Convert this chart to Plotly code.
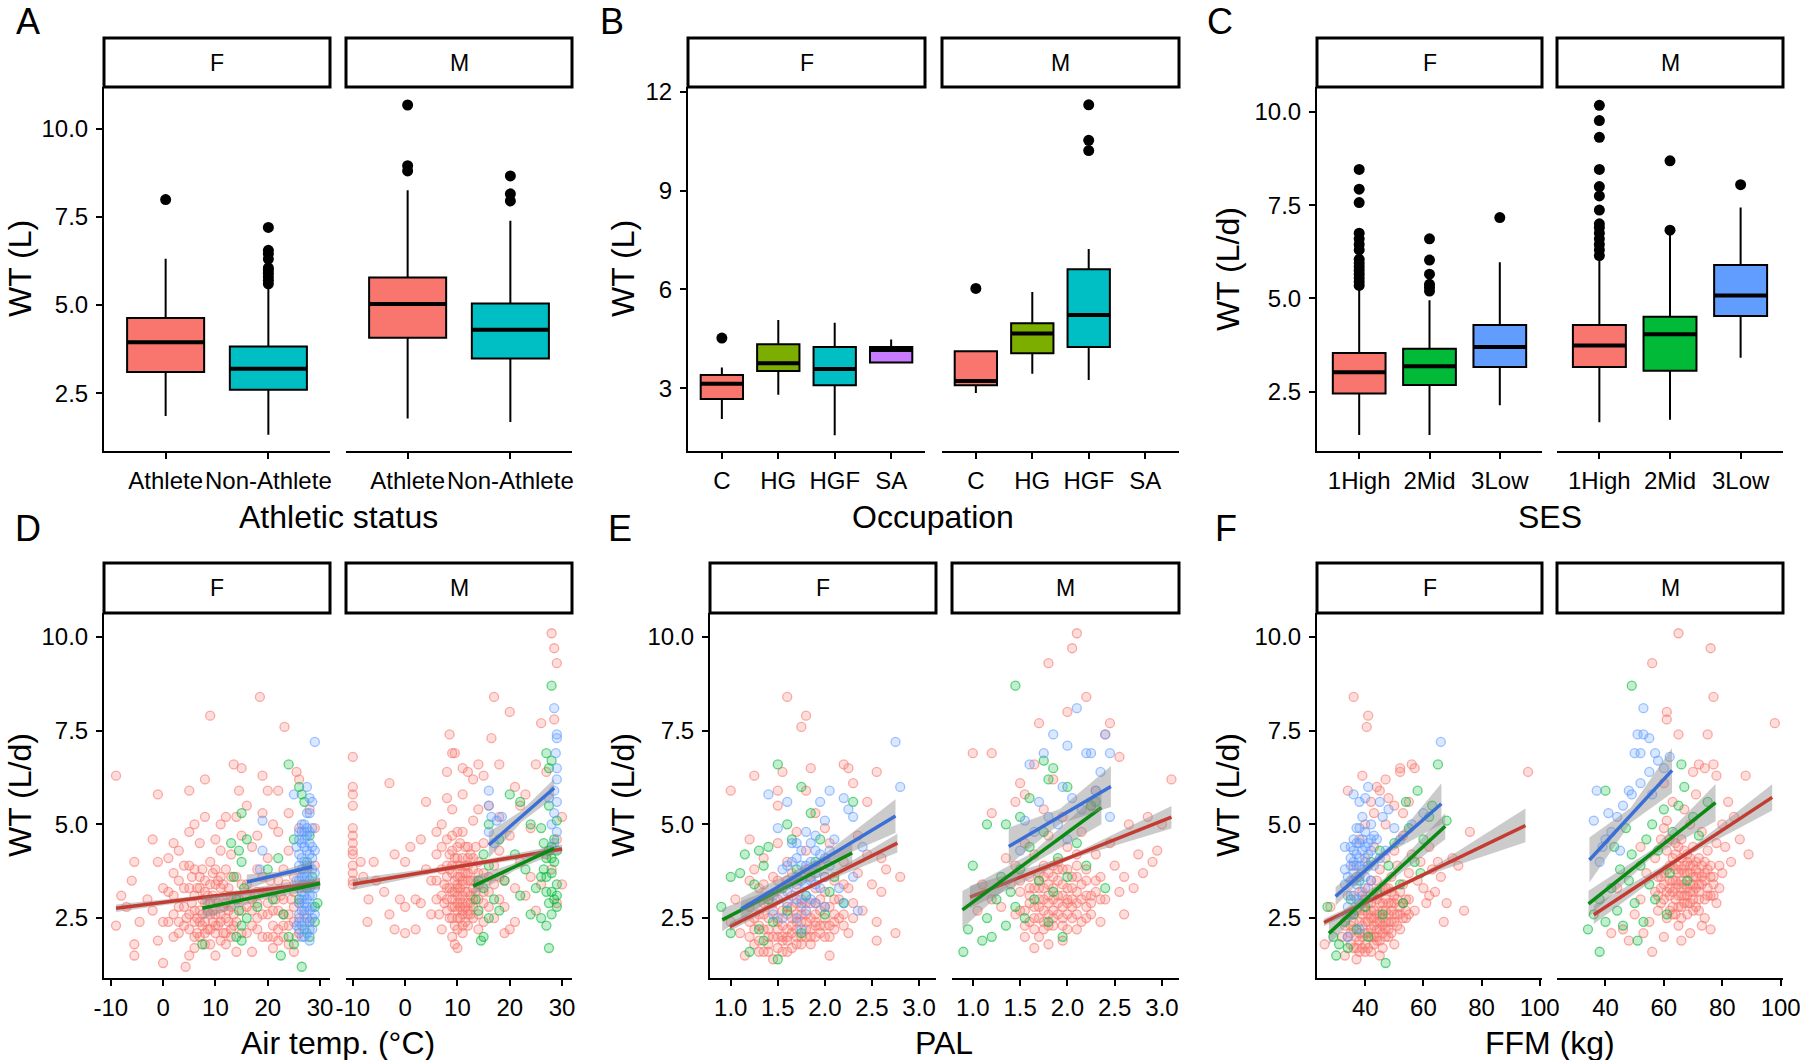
import plotly.graph_objects as go

# ---------------- DATA ----------------
# Panel A: Athletic status (boxes: q1, median, q3, lower whisker, upper whisker)
A_cats = ["Athlete", "Non-Athlete"]
A_F_stats = [[3.10, 3.94, 4.63, 1.85, 6.31], [2.60, 3.19, 3.82, 1.32, 5.50]]
A_M_stats = [[4.07, 5.03, 5.78, 1.78, 8.25], [3.48, 4.30, 5.04, 1.68, 7.39]]
A_F_out = [[7.99], [5.6, 5.7, 5.8, 5.9, 6.0, 6.05, 6.3, 6.45, 6.55, 7.2]]
A_M_out = [[8.8, 8.95, 10.67], [7.95, 8.15, 8.66]]

# Panel B: Occupation
B_cats = ["C", "HG", "HGF", "SA"]
B_F_stats = [[2.67, 3.13, 3.40, 2.06, 3.63], [3.52, 3.76, 4.33, 2.80, 5.07],
             [3.09, 3.58, 4.25, 1.57, 4.99], [3.78, 4.16, 4.25, 3.78, 4.48]]
B_M_stats = [[3.09, 3.22, 4.12, 2.85, 4.12], [4.06, 4.66, 4.97, 3.44, 5.92],
             [4.25, 5.22, 6.61, 3.25, 7.23], None]
B_F_out = [[4.52], [], [], []]
B_M_out = [[6.03], [], [10.22, 10.53, 11.61], []]

# Panel C: SES
C_cats = ["1High", "2Mid", "3Low"]
C_F_stats = [[2.45, 3.02, 3.54, 1.34, 5.29], [2.68, 3.18, 3.65, 1.34, 4.95], [3.16, 3.70, 4.29, 2.14, 5.97]]
C_M_stats = [[3.16, 3.74, 4.29, 1.68, 6.06], [3.06, 4.04, 4.51, 1.75, 6.70], [4.53, 5.08, 5.90, 3.41, 7.44]]
C_F_out = [[5.35, 5.45, 5.55, 5.65, 5.75, 5.85, 5.95, 6.05, 6.3, 6.45, 6.6, 6.75, 7.57, 7.93, 8.46],
           [5.2, 5.3, 5.38, 5.65, 6.03, 6.6], [7.17]]
C_M_out = [[6.15, 6.3, 6.45, 6.6, 6.75, 6.9, 7.0, 7.37, 7.75, 8.0, 8.46, 9.32, 9.77, 10.18],
           [6.83, 8.69], [8.05]]

# Scatter data (x, WT) by SES group: red=1High, green=2Mid, blue=3Low
D_F_red = [(-9,6.3),(-1,5.8),(5,5.9),(8,6.2),(9,7.9),(13.5,6.6),(15,6.5),(18.5,8.4),(23.2,7.6),(25.5,6.4),(22,5.9),(14.5,5.9),(16,5.5),(-2,4.6),(2,4.5),(-5.5,4.0),(-1,4.0),(-6,3.5),(-9,2.3),(-5.5,1.8),(-5.5,1.5),(-4.5,2.4),(-1,1.9),(0,1.3),(4.3,1.2),(5,1.5),(3,2.1),
    (1,3.2),(2,3.7),(3,2.8),(4,3.9),(4,3.3),(5,4.8),(5,2.6),(6,3.1),(6,2.0),(7,3.6),(7,4.5),(7,2.4),(8,5.2),(8,2.9),(8,1.8),(9,3.4),(9,4.0),(9,2.2),(10,3.0),(10,2.6),(10,4.6),(11,3.3),(11,1.9),(11,5.0),(12,2.5),(12,3.8),(12,2.9),(13,4.2),(13,2.2),(13,3.1),(14,1.6),(14,3.6),(15,2.7),(15,4.7),(16,3.4),(16,2.1),(17,3.0),(17,4.4),(18,2.5),(18,3.8),(19,5.3),(19,2.0),(20,3.2),(20,4.1),(21,2.7),(21,1.7),(22,3.5),(22,4.8),(23,2.3),(23,3.0),(24,4.3),(24,2.6),(25,3.6),(25,1.6),(26,2.9),(26,4.9),(27,3.3),(28,2.4),(29,3.9),(29,4.9),(28,5.4),(6,5.0),(3,4.3),(12,5.2),(20,5.9),(10,1.5),(17,1.6),(24,5.3),
    (5.5,2.9),(6.5,2.5),(7.5,3.0),(8.5,2.7),(9.5,3.1),(10.5,2.3),(11.5,2.8),(12.5,3.3),(13.5,2.6),(6,3.8),(8,3.5),(10,3.8),(11,4.3),(4,2.3),(2,2.6),(-3,3.0),(-7,2.8),(-8,3.1),(0,2.4),(1,4.1),(14,5.2),(18,4.7),(21,5.0),(19,6.3),(26,6.2),
    (5,3.3),(6,2.7),(7,2.0),(8,3.2),(9,2.6),(10,3.4),(11,2.6),(12,2.1),(13,2.8),(14,3.1),(15,3.4),(16,2.8),(17,2.3),(18,3.2),(20,2.6),(22,2.2),(23,3.8),(25,2.8),(27,2.6),(19,3.6),
    (5,2.2),(6,2.4),(6.5,3.3),(7,2.7),(7.5,2.3),(8,2.1),(8.5,3.1),(9,2.9),(9.5,2.4),(10,2.1),(10.5,3.5),(11,2.4),(11.5,2.1),(12,3.1),(12.5,2.4),(13,2.0),(21,2.3),(22,2.7),(22.5,3.1),(23,2.0),(24,2.3),(24.5,3.0),(25,2.4),(25.5,2.0),(26,2.5),(26.5,3.4),(20,2.0),(19,2.6),(18,2.2),(5,3.9),(4,2.8),(3,3.5),(2,3.1),(1,2.4),(0,3.3)]
D_F_red_core = [(4.5,2.5),(5.5,3.6),(6,1.7),(6.5,2.1),(7,3.3),(7.5,2.6),(7.5,3.8),(8,2.4),(8.5,2.2),(9,1.8),(9.5,2.7),(9.5,3.7),(10,2.3),(10.5,2.9),(11,3.6),(11.5,3.4),(12,1.8),(12.5,2.7),(13,3.6),(13.5,2.3),(14,2.4),(14.5,3.0),(15,2.1),(16,3.1),(17,2.7),(18,2.9),(19,3.2),(20,2.9),(20.5,3.5),(21,2.0),(21.5,3.0),(22,1.9),(23,2.6),(23.5,3.4),(24,1.8),(25,3.2),(26,2.1),(3,2.4),(2,2.0),(-2,2.7)]
D_F_green = [(15,5.3),(24,6.6),(26.5,5.8),(27,5.6),(26,6.0),(14.5,4.3),(15,4.0),(20,3.8),(22,4.1),(7.5,1.8),(14,2.0),(15,2.3),(22.5,1.5),(26.5,1.2),(28,2.0),(29,2.8),(27.5,3.3),(14,3.0),(16,2.5),(18,2.8),(24,2.0),(27,2.2),(13.5,3.6),(15.5,3.3),(14.5,2.7),(16,4.6),(13,4.5),(21,3.0),(23,2.6),(25,4.6),(27.5,4.0),(28.5,3.6),(29,2.4),(26,3.0),(28,4.7),(15,1.9),(25,1.8),(29.5,2.9)]
D_F_blue = [(29,7.2),(25,5.8),(19,5.1),(19,4.3),(18.5,3.8),(27.5,6.0),(28,5.7),(28,5.3),(27,5.0),(26,4.8),(26.5,4.5),(27.5,4.3),(28.5,4.1),(26,3.9),(27,3.7),(28,3.5),(26.5,3.2),(27.5,3.0),(28.5,2.8),(26,2.6),(27,2.4),(28,2.2),(26.5,2.0),(27.5,4.7),(28.5,4.9),(25.5,4.4),(25.5,3.5),(29,3.3),(26,2.9),(27,2.7),(28,3.9),(27,4.0),(26.5,3.6),(28.5,2.5),(27.5,2.1),(25.5,2.3),(26,3.3),(27,3.1),(28,2.7),(26.5,4.1),
    (26,4.2),(26.5,3.8),(27,4.4),(27.5,3.6),(28,4.2),(28.5,3.8),(26,3.5),(27,3.4),(28,3.1),(26.5,2.7),(27.5,2.5),(28.5,2.2),(26,2.2),(27,2.0),(28,1.9),(27,4.6),(28,4.5),(26.5,5.0),(27.5,5.3),(28.5,5.6)]
D_F_blue_core = [(26,4.6),(26.5,4.8),(27,4.8),(27.5,4.9),(28,4.8),(28.5,4.4),(29,4.3),(29,3.7),(28.5,3.4),(27.5,3.9),(27,3.6),(26.5,3.0),(27,2.9),(28,2.4),(28.5,3.1),(26,2.4),(27.5,2.8),(29,2.6),(28,3.3),(26.5,2.3)]

D_M_red = [(-10,6.8),(-10,6.0),(-10,5.8),(-10,5.5),(-10,4.9),(-10,4.7),(-10,4.5),(-10,4.3),(-10,4.2),(-10,3.9),(-10,3.7),(-10,3.5),(-10,3.4),(-7.2,2.4),(-8.5,4.0),(-3,6.1),(-1,3.0),(-2,2.2),(0,2.1),(-3,2.6),(1,4.4),(0,4.0),(2,3.0),(3,4.6),(-5.5,3.5),(-7,3.0),
    (28,10.1),(28.5,9.7),(29,9.3),(17,8.4),(20,8.0),(26,7.7),(8.5,7.4),(16.5,7.3),(9,6.9),(9.5,6.9),(8,6.4),(14,6.6),(18,6.6),(25,6.6),(11,6.5),(12,6.4),(4,5.6),(13,6.2),(15,6.3),(21,6.0),(23,5.8),(27,6.4),(28.5,7.8),
    (5,3.5),(5,2.6),(6,4.2),(6,3.0),(7,3.8),(7,2.2),(7,5.0),(8,3.3),(8,4.6),(8,2.7),(9,3.7),(9,2.0),(9,5.4),(10,3.1),(10,4.1),(10,2.5),(10,3.6),(10,1.7),(11,3.4),(11,4.8),(11,2.9),(11,2.3),(12,3.9),(12,3.2),(12,4.4),(12,2.6),(13,3.5),(13,5.1),(13,2.8),(14,4.0),(14,3.0),(14,2.2),(15,3.7),(15,4.5),(16,3.2),(16,5.5),(17,3.9),(17,2.5),(18,4.3),(18,3.0),(19,3.5),(19,2.1),(20,4.7),(21,3.3),(21,2.4),(22,4.0),(23,3.1),(24,3.6),(24,4.9),(25,2.7),(26,3.4),(27,4.2),(28,3.8),(29,2.9),(30,3.4),(30,5.2),(29,4.6),(9.5,1.8),(10.5,2.8),(11.5,3.9),(9,4.3),(13,4.1),(7.5,3.4),(20,2.2),(3,2.9),(4,3.8),(6,4.8),(8,5.7),(11,5.8),(14,5.4),(18,5.2),(22,5.5),(2,2.2),(0,2.8),(-8,3.6),(-6,4.0),(-4,3.2),(-2,4.2),
    (9,3.0),(10,3.3),(11,3.7),(10,2.9),(9.5,3.5),(10.5,3.9),(11,3.1),(12,3.5),(8.5,3.8),(13,3.3),(12.5,2.9),(9,2.5),
    (8,3.0),(8.5,3.3),(9,3.9),(9.5,2.8),(9.5,4.1),(10,2.7),(10,3.9),(10,4.4),(10.5,3.3),(10.5,2.5),(11,4.1),(11,2.6),(11.5,3.2),(11.5,2.4),(12,2.9),(12,3.7),(12.5,3.5),(12.5,4.2),(13,3.0),(13,2.5),(9,3.2),(10,2.2),(11,2.1),(12,2.3),(8,3.9),(7,3.1),(14,3.4),(14,2.6),(15,2.9),(16,3.6)]
D_M_red_core = [(6,3.5),(6.5,2.6),(7,4.4),(7.5,2.9),(8,3.6),(8.5,2.5),(8.5,4.2),(9,2.8),(9,4.7),(9.5,3.2),(9.5,2.3),(10,3.4),(10,4.8),(10.5,3.0),(10.5,3.6),(10.5,4.5),(11,3.5),(11,2.7),(11.5,3.7),(11.5,2.8),(11.5,4.4),(12,2.7),(12,4.1),(12.5,3.1),(12.5,2.6),(13,3.8),(13.5,3.2),(13.5,4.4),(14,3.7),(15,3.2),(15,2.4),(16,2.8),(17,3.4),(18,3.6),(19,2.8)]
D_M_green = [(28,8.7),(28,6.7),(27.5,6.5),(27,6.9),(15,2.0),(14,2.7),(15,3.3),(16,3.9),(14,3.5),(16,2.5),(17,3.0),(15,4.2),(13.5,3.0),(14.5,1.9),(18,2.7),(19,3.5),(20,5.8),(22,5.6),(21,4.2),(22,3.1),(23,3.8),(24,2.6),(25,3.3),(26,2.5),(26,4.9),(27,2.3),(27.5,1.7),(28,2.6),(28.5,3.0),(29,2.8),(27,4.1),(28,3.7),(28.5,4.6),(29,5.1),(27.5,5.5),(26.5,3.8),(28,4.4),(29,3.4),(27,3.2),(24,5.0),(18,4.6),(16,5.0),
    (26,3.6),(27,3.6),(27.5,4.3),(28,4.1),(28.5,4.0),(29,4.3),(27.5,2.9),(28,3.2),(29,3.1),(26.5,4.5)]
D_M_blue = [(28.5,8.1),(29,7.4),(29,7.3),(28.8,6.9),(29,6.5),(29,6.2),(28.5,5.9),(16,5.5),(16,5.9),(16,4.8),(17,4.5),(17.5,5.1),(18.5,5.2),(28,5.0),(28.5,5.3),(29,4.8),(28.5,4.5),(29,5.6),(27.5,5.7),(16.5,5.2)]

E_F_red = [(1.6,8.4),(1.8,7.9),(1.75,7.6),(1.0,5.9),(1.25,6.3),(1.55,6.4),(1.85,6.5),(2.2,6.6),(2.25,6.5),(2.55,6.4),(2.3,6.1),(2.45,5.6),(2.65,3.8),(2.8,3.6),(2.6,3.2),(2.55,2.4),(2.55,1.9),(2.75,2.1),(2.05,1.5),(1.5,5.9),(1.5,5.5),(1.8,5.9),(1.9,5.3),(1.2,4.6),
    (1.1,2.1),(1.15,1.5),(1.2,2.8),(1.25,1.8),(1.3,3.3),(1.3,2.3),(1.35,1.6),(1.35,4.1),(1.4,2.0),(1.4,2.9),(1.45,3.6),(1.45,1.4),(1.5,2.5),(1.5,4.5),(1.55,1.9),(1.55,3.1),(1.6,2.2),(1.6,4.0),(1.65,2.8),(1.65,1.7),(1.7,3.4),(1.7,2.4),(1.7,4.8),(1.75,2.0),(1.75,3.0),(1.8,2.6),(1.8,4.3),(1.85,1.8),(1.85,3.6),(1.9,2.3),(1.9,2.9),(1.95,3.9),(1.95,2.1),(2.0,3.2),(2.0,2.5),(2.05,4.5),(2.05,2.8),(2.1,3.5),(2.1,2.2),(2.15,3.0),(2.2,4.0),(2.2,2.6),(2.25,3.3),(2.3,2.9),(2.35,3.7),(2.4,2.7),(2.45,4.2),(2.5,3.4),(1.0,2.4),(1.05,3.0),(1.6,3.5),(1.5,2.0),(1.4,2.5),(1.7,2.0),(1.9,3.3),(2.0,4.9),(2.35,4.7),(2.6,4.1),(1.25,3.8),(1.2,3.5),
    (1.35,2.2),(1.45,2.7),(1.55,2.3),(1.65,2.5),(1.75,2.6),(1.85,2.2),(1.95,2.7),(2.05,2.3),(1.5,1.7),(1.6,1.9),(1.8,2.0),(2.15,2.5),(2.25,2.1),(1.3,1.9),(1.4,1.6),
    (1.35,2.6),(1.4,1.8),(1.45,3.1),(1.5,2.2),(1.55,2.7),(1.6,1.6),(1.6,2.6),(1.65,3.1),(1.65,2.1),(1.7,2.2),(1.7,2.9),(1.75,2.4),(1.8,2.2),(1.8,2.9),(1.85,2.5),(1.9,2.0),(1.9,2.6),(1.95,2.3),(2.0,2.0),(2.0,2.8),(1.45,2.0),(1.35,2.9),(1.25,2.2),(1.55,1.6),(2.1,2.6),(2.2,2.3),(1.3,1.6),(1.2,2.0)]
E_F_red_core = [(1.3,2.6),(1.35,3.4),(1.4,2.2),(1.45,2.9),(1.5,2.4),(1.5,3.5),(1.55,2.0),(1.6,2.8),(1.6,2.0),(1.65,2.3),(1.65,3.7),(1.7,2.6),(1.7,1.8),(1.75,2.8),(1.75,1.8),(1.8,2.4),(1.8,3.8),(1.85,2.9),(1.85,2.0),(1.9,2.4),(1.95,3.0),(2.0,2.3),(2.0,3.6),(2.05,2.0),(2.1,2.4),(2.1,3.0),(2.2,3.4),(2.3,2.5),(1.25,2.5),(1.2,2.4)]
E_F_green = [(1.5,6.6),(1.75,6.0),(2.3,5.6),(0.9,2.8),(1.0,3.6),(1.1,3.7),(1.15,4.2),(1.3,4.3),(1.85,5.3),(1.25,3.4),(1.35,3.9),(1.4,3.0),(1.45,2.4),(1.5,1.4),(1.55,3.3),(1.6,2.7),(1.65,4.6),(1.7,3.8),(1.75,2.1),(1.8,3.1),(1.9,4.0),(2.0,2.6),(2.1,3.6),(2.2,2.9),(1.0,2.1),(1.2,1.6),(1.35,1.9),(1.4,4.4),(1.6,5.0),(1.95,4.6),(2.05,3.2),(1.3,2.2)]
E_F_blue = [(2.75,7.2),(2.8,6.0),(1.4,5.8),(1.6,5.6),(2.05,5.9),(2.25,5.4),(2.3,5.2),(1.95,5.6),(2.2,5.7),(1.5,4.9),(1.65,4.5),(1.7,4.1),(1.75,3.5),(1.8,4.8),(1.85,3.0),(1.9,4.3),(2.0,2.8),(2.05,3.9),(2.1,4.6),(2.15,3.3),(2.2,2.9),(2.3,3.6),(2.35,2.7),(1.55,3.8),(1.6,3.2),(1.45,2.6),(1.7,2.5),(2.0,5.1),(2.4,4.4),(1.9,3.7),(1.5,3.0),(1.75,2.2),
    (1.6,3.9),(1.65,3.5),(1.7,4.5),(1.75,3.9),(1.8,3.4),(1.85,4.0),(1.9,4.7),(1.95,3.3),(2.0,4.1),(1.7,3.0),(1.8,2.7),(1.9,2.9),(1.6,2.9),(1.55,2.5)]
E_F_blue_core = [(1.65,4.0),(1.7,3.6),(1.75,4.3),(1.8,3.9),(1.85,3.5),(1.85,4.5),(1.9,3.9),(1.95,4.2),(2.0,3.6),(2.05,4.3),(1.7,3.3),(1.8,3.1),(1.6,3.4),(1.75,2.9),(1.9,3.4)]

E_M_red = [(2.1,10.1),(2.05,9.7),(1.8,9.3),(2.2,8.4),(2.0,8.0),(2.45,7.7),(1.7,7.7),(2.4,7.4),(1.0,6.9),(1.2,6.9),(2.55,6.8),(3.1,6.2),(1.65,6.6),(1.5,6.1),(1.55,5.8),(1.45,5.6),(1.2,5.3),(1.85,6.2),(2.3,5.9),(2.65,5.0),(2.75,4.2),(2.8,3.7),(2.9,4.0),(2.95,4.3),(2.7,3.3),(2.6,3.6),(2.5,3.9),(2.55,3.2),(2.45,4.5),(2.35,3.0),(2.3,4.2),(2.25,2.6),(2.2,3.5),(2.15,4.8),(2.1,2.2),(2.1,3.9),(2.05,3.0),(2.0,4.4),(2.0,2.6),(1.95,3.4),(1.95,1.9),(1.9,4.0),(1.9,2.9),(1.85,3.6),(1.85,2.3),(1.8,4.7),(1.8,3.1),(1.75,2.7),(1.75,3.9),(1.7,3.3),(1.7,2.0),(1.65,4.2),(1.65,2.5),(1.6,3.6),(1.6,2.9),(1.55,4.5),(1.55,2.3),(1.5,3.2),(1.45,3.9),(1.45,2.6),(1.4,3.4),(1.35,4.1),(1.3,2.8),(1.2,3.0),(1.1,3.4),(1.05,2.7),(1.65,1.7),(1.8,1.8),(2.35,2.4),(2.6,2.6),(3.0,5.0),(2.85,5.2),(1.95,5.2),(2.25,5.5),(1.75,5.4),
    (1.6,3.1),(1.7,2.8),(1.8,3.4),(1.9,3.1),(2.0,2.9),(1.65,3.3),(1.75,3.0),(1.85,2.7),(2.1,3.2),(1.95,2.5),(1.5,2.7),(2.2,3.1),
    (1.7,3.0),(1.75,3.3),(1.8,2.6),(1.85,3.0),(1.9,3.5),(1.95,2.8),(2.0,3.3),(2.05,2.5),(2.1,2.9),(2.15,3.4),(2.2,2.8),(1.65,2.8),(1.6,2.4),(1.75,2.4),(1.85,3.9),(1.95,3.8),(2.05,3.6),(2.15,2.4),(2.25,3.1),(1.8,3.7),(2.0,2.2),(2.1,4.2),(1.7,3.7),(2.3,3.5)]
E_M_red_core = [(1.55,2.7),(1.6,3.3),(1.65,2.2),(1.7,2.5),(1.7,3.5),(1.75,2.2),(1.75,3.6),(1.8,2.9),(1.8,2.3),(1.85,3.3),(1.85,2.5),(1.9,2.6),(1.9,3.8),(1.95,3.1),(1.95,2.3),(2.0,3.0),(2.0,3.8),(2.05,2.8),(2.05,3.3),(2.1,2.6),(2.1,3.6),(2.15,3.0),(2.2,2.5),(2.2,3.8),(2.25,2.9),(2.3,3.2),(2.35,3.6),(2.4,3.0),(1.5,3.5),(1.55,2.0)]
E_M_green = [(1.45,8.7),(0.9,1.6),(0.95,2.2),(1.0,3.9),(1.15,5.0),(1.35,5.0),(1.75,6.7),(1.85,6.5),(1.8,6.2),(2.0,6.0),(1.15,2.5),(1.2,2.0),(1.25,3.0),(1.3,3.6),(1.35,2.3),(1.4,3.2),(1.45,2.8),(1.5,3.8),(1.55,2.5),(1.6,4.4),(1.65,3.0),(1.7,3.5),(1.75,4.8),(1.8,2.4),(1.85,3.2),(1.9,4.1),(1.95,2.0),(2.0,3.6),(2.1,4.5),(2.2,3.9),(2.25,5.5),(2.3,5.6),(1.5,5.2),(1.6,5.7),(2.4,3.3),(1.1,1.9)]
E_M_blue = [(2.1,8.1),(1.85,7.4),(2.4,7.4),(1.75,6.9),(2.0,7.1),(2.2,6.9),(2.25,6.9),(2.45,6.9),(2.35,6.4),(2.45,5.2),(1.6,6.6),(1.95,6.0),(1.7,5.6),(1.8,5.2),(1.65,4.8),(1.9,5.0),(2.0,4.6),(1.5,4.3),(2.3,5.9),(2.15,5.4),(1.55,5.1),(2.05,5.7)]

F_F_red = [(36,8.4),(41,7.9),(40.5,7.6),(96,6.4),(52,6.4),(52,6.5),(56,6.6),(57,6.5),(39,6.3),(34,5.9),(76,4.8),(72,3.9),(74,2.7),(67,2.4),(62,3.1),(26,1.8),(28,2.8),(44,6.0),(45,5.9),(48,5.7),(50,5.5),(53,5.3),(42,5.6),(47,5.0),
    (32,2.0),(33,1.5),(34,2.6),(35,1.8),(35,3.1),(36,2.2),(37,1.4),(37,3.6),(38,2.7),(38,1.9),(39,3.2),(39,2.3),(40,4.1),(40,1.6),(41,2.9),(41,2.1),(42,3.5),(42,2.5),(43,1.8),(43,4.4),(44,3.0),(44,2.2),(45,3.8),(45,2.6),(46,1.7),(46,3.3),(47,2.4),(47,4.1),(48,2.9),(48,2.0),(49,3.6),(49,2.7),(50,4.3),(50,3.1),(51,2.3),(51,3.9),(52,2.8),(53,3.4),(53,4.7),(54,2.5),(55,3.7),(55,3.0),(56,4.2),(57,2.7),(58,3.5),(59,4.0),(60,3.3),(61,2.9),(62,4.4),(63,3.8),(64,3.2),(65,4.0),(66,3.6),(68,2.9),(70,4.1),(45,1.5),(50,1.8),(36,3.9),(38,4.6),(40,5.0),(43,5.3),(47,6.2),(55,5.6),
    (39,2.0),(40,2.4),(42,2.0),(43,2.7),(44,1.9),(45,2.2),(46,2.5),(47,2.0),(48,2.4),(49,2.1),(50,2.6),(52,2.2),(36,1.7),(38,1.6),(41,1.7),
    (36,2.6),(37,2.0),(38,2.4),(38,3.2),(39,1.7),(40,2.7),(40,3.0),(41,2.4),(41,3.3),(42,1.6),(42,2.9),(43,2.3),(43,3.1),(44,2.6),(44,3.5),(45,1.9),(45,2.9),(46,2.1),(46,2.9),(47,2.7),(47,3.3),(48,2.2),(48,3.3),(49,2.4),(50,2.9),(51,2.6),(52,3.2),(53,2.5),(54,3.0),(55,2.6),(35,2.3),(34,2.0),(33,2.3)]
F_F_red_core = [(35,2.1),(36,2.4),(37,2.7),(37,1.7),(38,2.1),(39,2.6),(39,2.9),(40,2.1),(40,1.8),(41,2.6),(42,2.2),(42,2.7),(43,2.0),(43,2.5),(44,2.4),(44,2.0),(45,2.4),(45,3.2),(46,2.3),(46,2.7),(47,2.2),(47,3.0),(48,2.6),(49,2.9),(49,3.2),(50,2.4),(51,3.0),(52,2.6),(53,2.9),(54,2.7)]
F_F_green = [(65,6.6),(58,5.9),(54,5.6),(68,5.1),(27,2.8),(30,1.5),(47,1.3),(29,2.0),(31,1.8),(33,2.4),(35,3.0),(37,2.2),(38,3.5),(40,2.8),(42,4.0),(44,3.2),(46,2.6),(48,3.9),(50,4.5),(52,3.4),(55,4.9),(57,4.0),(60,4.6),(62,5.2),(45,4.3),(34,1.7),(41,2.0),(36,2.6),(53,2.9),(59,3.7),(63,5.5)]
F_F_blue = [(66,7.2),(41,6.0),(38,5.6),(45,5.6),(33,4.4),(33,3.8),(33,3.4),(36,5.8),(40,5.7),(39,5.2),(37,4.9),(35,4.4),(36,4.0),(38,4.5),(40,4.8),(42,5.0),(44,4.6),(46,5.2),(48,5.4),(50,4.9),(34,3.1),(36,3.5),(39,3.8),(41,4.2),(43,3.9),(45,4.1),(37,3.0),(40,3.3),(35,2.6),(38,2.9),(42,3.5),(47,4.3),(52,4.6),(56,5.0),(60,5.3),(38,2.2),(34,2.0),
    (34,3.6),(35,3.9),(36,4.3),(37,3.9),(37,4.5),(38,3.6),(38,4.1),(39,4.6),(40,4.0),(40,3.6),(41,4.5),(42,4.3),(43,4.7),(34,2.8),(36,3.1),(39,3.1)]
F_F_blue_core = [(35,3.5),(36,3.7),(37,4.2),(38,3.9),(39,4.3),(40,4.4),(41,3.9),(42,4.6),(36,4.6),(38,4.9),(35,4.1),(37,3.4)]

F_M_red = [(65,10.1),(76,9.7),(56,9.3),(77,8.4),(61,8.0),(61,7.8),(65,7.4),(75,7.4),(98,7.7),(88,6.3),(89,4.2),(72,6.6),(74,6.5),(77,6.6),(78,6.3),(70,6.4),(60,6.1),(82,5.6),(84,5.2),(80,5.0),(86,4.6),(83,4.0),(79,3.9),(44,3.3),(42,2.1),(46,2.2),(48,1.9),(53,2.1),(56,1.6),(60,2.0),(69,2.1),(50,2.6),(52,3.0),(55,2.4),(57,3.2),(58,2.7),(59,3.6),(60,3.0),(61,2.5),(62,3.9),(62,3.3),(63,2.8),(64,4.2),(64,3.5),(65,2.3),(65,3.1),(66,3.8),(66,4.6),(67,2.9),(67,3.4),(68,4.0),(68,2.6),(69,3.7),(69,5.0),(70,3.2),(70,4.4),(71,2.8),(71,3.6),(72,4.1),(72,3.0),(73,3.4),(73,4.8),(74,2.5),(75,3.8),(75,4.3),(76,3.1),(77,3.6),(78,2.9),(78,4.5),(79,3.3),(80,3.7),(81,4.4),(57,4.1),(59,4.6),(61,5.1),(63,5.6),(67,5.4),(71,5.8),(54,3.7),(52,4.4),(60,4.9),(73,2.3),(76,2.2),(66,1.9),
    (62,2.7),(64,3.0),(66,3.3),(68,3.1),(70,3.6),(63,3.5),(65,3.7),(67,3.9),(69,2.9),(71,3.3),(58,3.1),(74,3.5),
    (60,3.4),(61,3.8),(62,3.1),(63,3.2),(63,4.1),(64,2.6),(64,3.8),(65,3.4),(65,4.4),(66,2.8),(66,3.1),(67,4.3),(68,3.3),(68,3.7),(69,3.4),(69,4.1),(70,2.7),(70,3.9),(71,4.0),(72,3.4),(72,3.7),(73,3.9),(74,3.0),(74,4.0),(75,3.3),(76,3.6),(77,3.1),(62,4.6),(66,4.1),(59,3.3)]
F_M_red_core = [(58,3.6),(59,2.9),(60,3.7),(61,3.2),(61,4.3),(62,3.5),(63,2.6),(63,3.9),(64,3.3),(64,4.5),(65,2.8),(65,3.9),(66,3.5),(66,2.5),(67,3.1),(67,3.7),(68,2.9),(68,4.2),(69,3.2),(69,3.9),(70,3.4),(70,3.0),(71,3.8),(72,3.2),(72,2.7),(73,3.6),(74,3.7),(75,3.1),(76,3.9),(77,3.4)]
F_M_green = [(49,8.7),(38,1.6),(34,2.2),(40,5.9),(36,2.6),(38,3.0),(40,2.4),(42,3.3),(44,2.7),(45,3.8),(46,2.3),(48,3.5),(49,4.2),(50,2.9),(51,1.9),(52,3.9),(54,4.6),(55,3.4),(56,5.0),(58,4.3),(60,5.4),(62,3.7),(63,4.8),(65,5.5),(66,6.6),(67,6.0),(70,5.2),(72,4.7),(75,5.6),(53,2.4),(47,4.9),(43,4.4),(57,3.0),(61,2.6),(68,3.5)]
F_M_blue = [(53,8.1),(51,7.4),(53,7.4),(55,7.3),(50,6.9),(52,6.9),(57,6.9),(37,5.9),(48,5.9),(36,5.1),(38,4.0),(40,4.6),(42,4.8),(44,5.2),(46,5.5),(49,5.8),(52,6.1),(55,6.4),(58,6.7),(60,6.5),(45,4.3),(41,5.3),(56,5.8),(62,6.8),(39,4.4)]

# Fitted lines: (x0, x1, y0, y1) and band half-widths (start, mid, end)
D_F_fit = {"red": (-9, 30, 2.76, 3.44, 0.10, 0.05, 0.15), "green": (7.5, 30, 2.76, 3.42, 0.30, 0.10, 0.15), "blue": (16, 28.5, 3.46, 3.87, 0.20, 0.08, 0.15)}
D_M_fit = {"red": (-10, 30, 3.40, 4.34, 0.15, 0.05, 0.12), "green": (13, 28.5, 3.35, 4.36, 0.25, 0.10, 0.15), "blue": (16, 28.5, 4.45, 5.97, 0.35, 0.15, 0.25)}
E_F_fit = {"red": (0.99, 2.77, 2.27, 4.50, 0.12, 0.04, 0.25), "green": (0.91, 2.29, 2.45, 4.24, 0.30, 0.10, 0.30), "blue": (1.11, 2.75, 2.74, 5.22, 0.30, 0.10, 0.45)}
E_M_fit = {"red": (0.97, 3.10, 3.06, 5.19, 0.30, 0.05, 0.30), "green": (0.89, 2.36, 2.72, 5.45, 0.50, 0.15, 0.45), "blue": (1.38, 2.46, 4.41, 6.01, 0.50, 0.20, 0.55)}
F_F_fit = {"red": (25.8, 95.1, 2.38, 4.97, 0.10, 0.05, 0.45), "green": (27.5, 67.5, 2.09, 4.95, 0.30, 0.10, 0.35), "blue": (29.8, 66.2, 3.08, 5.55, 0.25, 0.08, 0.55)}
F_M_fit = {"red": (36.0, 97.1, 2.59, 5.72, 0.25, 0.05, 0.35), "green": (34.2, 77.7, 2.88, 5.58, 0.35, 0.10, 0.50), "blue": (34.5, 62.8, 4.05, 6.44, 0.60, 0.20, 0.60)}

# ---------------- STYLE ----------------
W, H = 1800, 1060
FONT = "Liberation Sans, Arial, sans-serif"
C_RED, C_GREEN, C_BLUE = "#F8766D", "#00BA38", "#619CFF"
RGB = {"red": (248, 118, 109), "green": (0, 186, 56), "blue": (97, 156, 255)}
LINE_COL = {"red": "#C43C31", "green": "#0A8A12", "blue": "#3B6FD6"}
TICK_SIZE = 24
TITLE_SIZE = 32

def px(x):
    return x / W

def py(y):
    return 1 - y / H

ROW1 = (87, 451)
ROW2 = (613, 978)
STRIP1 = (38, 87)
STRIP2 = (563, 613)

fig = go.Figure()
layout = {}
shapes = []
annotations = []
ax_counter = [0]

def new_axes(xpx, ypx, xrange, yrange, xticks, xtext, yticks, ytext, show_y):
    ax_counter[0] += 1
    i = ax_counter[0]
    sfx = "" if i == 1 else str(i)
    axis_common = dict(showgrid=False, zeroline=False, showline=True, linecolor="black", linewidth=2,
                       ticks="outside", ticklen=6, tickwidth=2, tickcolor="black",
                       tickfont=dict(family=FONT, size=TICK_SIZE, color="black"), fixedrange=True,
                       ticklabeloverflow="allow")
    layout["xaxis" + sfx] = dict(axis_common, domain=[px(xpx[0]), px(xpx[1])], range=xrange,
                                 anchor="y" + sfx, tickvals=xticks, ticktext=xtext, tickangle=0,
                                 ticklabelstandoff=1)
    if show_y:
        layout["yaxis" + sfx] = dict(axis_common, domain=[py(ypx[1]), py(ypx[0])], range=yrange,
                                     anchor="x" + sfx, tickvals=yticks, ticktext=ytext, ticklabelstandoff=3)
    else:
        layout["yaxis" + sfx] = dict(domain=[py(ypx[1]), py(ypx[0])], range=yrange, anchor="x" + sfx,
                                     visible=False, showgrid=False, zeroline=False, fixedrange=True)
    return "x" + sfx, "y" + sfx

def text(xp, yp, s, size, angle=0):
    annotations.append(dict(x=px(xp), y=py(yp), xref="paper", yref="paper", text=s, showarrow=False,
                            xanchor="center", yanchor="middle", textangle=angle,
                            font=dict(family=FONT, size=size, color="black")))

def strip(xpx, spx, label):
    shapes.append(dict(type="rect", xref="paper", yref="paper", x0=px(xpx[0]), x1=px(xpx[1]),
                       y0=py(spx[1]), y1=py(spx[0]), line=dict(color="black", width=3), fillcolor="white"))
    text((xpx[0] + xpx[1]) / 2, (spx[0] + spx[1]) / 2, label, 23)

def add_boxes(xa, ya, stats_list, out_list, fills):
    for i, st in enumerate(stats_list):
        if st is None:
            continue
        q1, med, q3, lo, hi = st
        fig.add_trace(go.Box(x=[i], q1=[q1], median=[med], q3=[q3], lowerfence=[lo], upperfence=[hi],
                             fillcolor=fills[i], line=dict(color="black", width=2), width=0.75,
                             whiskerwidth=0, boxpoints=False, xaxis=xa, yaxis=ya, showlegend=False,
                             hoverinfo="skip"))
        fig.add_trace(go.Scatter(x=[i - 0.375, i + 0.375], y=[med, med], mode="lines",
                                 line=dict(color="black", width=4), xaxis=xa, yaxis=ya,
                                 showlegend=False, hoverinfo="skip"))
        if out_list[i]:
            fig.add_trace(go.Scatter(x=[i] * len(out_list[i]), y=out_list[i], mode="markers",
                                     marker=dict(color="black", size=11), xaxis=xa, yaxis=ya,
                                     showlegend=False, hoverinfo="skip"))

def add_scatter(xa, ya, groups, fits):
    for name, pts in groups:
        r, g, b = RGB[name]
        fig.add_trace(go.Scatter(x=[p[0] for p in pts], y=[p[1] for p in pts], mode="markers",
                                 marker=dict(size=9, color=f"rgba({r},{g},{b},0.24)",
                                             line=dict(color=f"rgba({r},{g},{b},0.6)", width=1.3)),
                                 xaxis=xa, yaxis=ya, showlegend=False, hoverinfo="skip"))
    for name in ["red", "green", "blue"]:
        x0, x1, y0, y1, w0, wm, w1 = fits[name]
        xm, ym = (x0 + x1) / 2, (y0 + y1) / 2
        fig.add_trace(go.Scatter(x=[x0, xm, x1, x1, xm, x0, x0],
                                 y=[y0 + w0, ym + wm, y1 + w1, y1 - w1, ym - wm, y0 - w0, y0 + w0],
                                 fill="toself", fillcolor="rgba(140,140,140,0.45)", line=dict(width=0),
                                 mode="lines", xaxis=xa, yaxis=ya, showlegend=False, hoverinfo="skip"))
        fig.add_trace(go.Scatter(x=[x0, x1], y=[y0, y1], mode="lines",
                                 line=dict(color=LINE_COL[name], width=3.5),
                                 xaxis=xa, yaxis=ya, showlegend=False, hoverinfo="skip"))

# ---------------- PANELS ----------------
yt25 = [2.5, 5.0, 7.5, 10.0]
yt25_txt = ["2.5", "5.0", "7.5", "10.0"]

A_cols = {"F": (104, 330), "M": (346, 572)}
for sex, stats, outs in [("F", A_F_stats, A_F_out), ("M", A_M_stats, A_M_out)]:
    xa, ya = new_axes(A_cols[sex], ROW1, [-0.6, 1.6], [0.86, 11.18], [0, 1], A_cats, yt25, yt25_txt, sex == "F")
    add_boxes(xa, ya, stats, outs, [C_RED, "#00BFC4"])
    strip(A_cols[sex], STRIP1, sex)

B_cols = {"F": (688, 925), "M": (942, 1179)}
B_fill = ["#F8766D", "#7CAE00", "#00BFC4", "#C77CFF"]
for sex, stats, outs in [("F", B_F_stats, B_F_out), ("M", B_M_stats, B_M_out)]:
    xa, ya = new_axes(B_cols[sex], ROW1, [-0.6, 3.6], [1.09, 12.15], [0, 1, 2, 3], B_cats, [3, 6, 9, 12],
                      ["3", "6", "9", "12"], sex == "F")
    add_boxes(xa, ya, stats, outs, B_fill)
    strip(B_cols[sex], STRIP1, sex)

C_cols = {"F": (1317, 1542), "M": (1557, 1783)}
for sex, stats, outs in [("F", C_F_stats, C_F_out), ("M", C_M_stats, C_M_out)]:
    xa, ya = new_axes(C_cols[sex], ROW1, [-0.6, 2.6], [0.91, 10.67], [0, 1, 2], C_cats, yt25, yt25_txt, sex == "F")
    add_boxes(xa, ya, stats, outs, [C_RED, C_GREEN, C_BLUE])
    strip(C_cols[sex], STRIP1, sex)

D_cols = {"F": (104, 330), "M": (346, 572)}
D_sets = {"F": ([("red", D_F_red + D_F_red_core), ("green", D_F_green), ("blue", D_F_blue + D_F_blue_core)], D_F_fit),
          "M": ([("red", D_M_red + D_M_red_core), ("green", D_M_green), ("blue", D_M_blue)], D_M_fit)}
for sex in ["F", "M"]:
    xa, ya = new_axes(D_cols[sex], ROW2, [-11.3, 31.9], [0.9, 10.64], [-10, 0, 10, 20, 30],
                      ["-10", "0", "10", "20", "30"], yt25, yt25_txt, sex == "F")
    add_scatter(xa, ya, *D_sets[sex])
    strip(D_cols[sex], STRIP2, sex)

E_cols = {"F": (710, 936), "M": (952, 1179)}
E_sets = {"F": ([("red", E_F_red + E_F_red_core), ("green", E_F_green), ("blue", E_F_blue + E_F_blue_core)], E_F_fit),
          "M": ([("red", E_M_red + E_M_red_core), ("green", E_M_green), ("blue", E_M_blue)], E_M_fit)}
for sex in ["F", "M"]:
    xa, ya = new_axes(E_cols[sex], ROW2, [0.78, 3.18], [0.9, 10.64], [1.0, 1.5, 2.0, 2.5, 3.0],
                      ["1.0", "1.5", "2.0", "2.5", "3.0"], yt25, yt25_txt, sex == "F")
    add_scatter(xa, ya, *E_sets[sex])
    strip(E_cols[sex], STRIP2, sex)

F_cols = {"F": (1317, 1542), "M": (1557, 1783)}
F_sets = {"F": ([("red", F_F_red + F_F_red_core), ("green", F_F_green), ("blue", F_F_blue + F_F_blue_core)], F_F_fit),
          "M": ([("red", F_M_red + F_M_red_core), ("green", F_M_green), ("blue", F_M_blue)], F_M_fit)}
for sex in ["F", "M"]:
    xa, ya = new_axes(F_cols[sex], ROW2, [23.4, 100.8], [0.9, 10.64], [40, 60, 80, 100],
                      ["40", "60", "80", "100"], yt25, yt25_txt, sex == "F")
    add_scatter(xa, ya, *F_sets[sex])
    strip(F_cols[sex], STRIP2, sex)

text(338, 517, "Athletic status", TITLE_SIZE)
text(933, 517, "Occupation", TITLE_SIZE)
text(1550, 517, "SES", TITLE_SIZE)
text(338, 1043, "Air temp. (°C)", TITLE_SIZE)
text(944, 1043, "PAL", TITLE_SIZE)
text(1550, 1043, "FFM (kg)", TITLE_SIZE)
text(20, 269, "WT (L)", TITLE_SIZE, -90)
text(623, 269, "WT (L)", TITLE_SIZE, -90)
text(1228, 269, "WT (L/d)", TITLE_SIZE, -90)
text(20, 795, "WT (L/d)", TITLE_SIZE, -90)
text(623, 795, "WT (L/d)", TITLE_SIZE, -90)
text(1228, 795, "WT (L/d)", TITLE_SIZE, -90)
for lab, xp, yp in [("A", 28, 22), ("B", 612, 22), ("C", 1220, 22), ("D", 28, 528), ("E", 620, 528), ("F", 1226, 528)]:
    text(xp, yp, lab, 36)

fig.update_layout(width=W, height=H, margin=dict(l=0, r=0, t=0, b=0, autoexpand=False),
                  paper_bgcolor="white", plot_bgcolor="white", showlegend=False, boxmode="overlay",
                  shapes=shapes, annotations=annotations, **layout)
fig.write_html("out.html", config={"displayModeBar": False},
               post_script="document.body.style.margin='0px';")
